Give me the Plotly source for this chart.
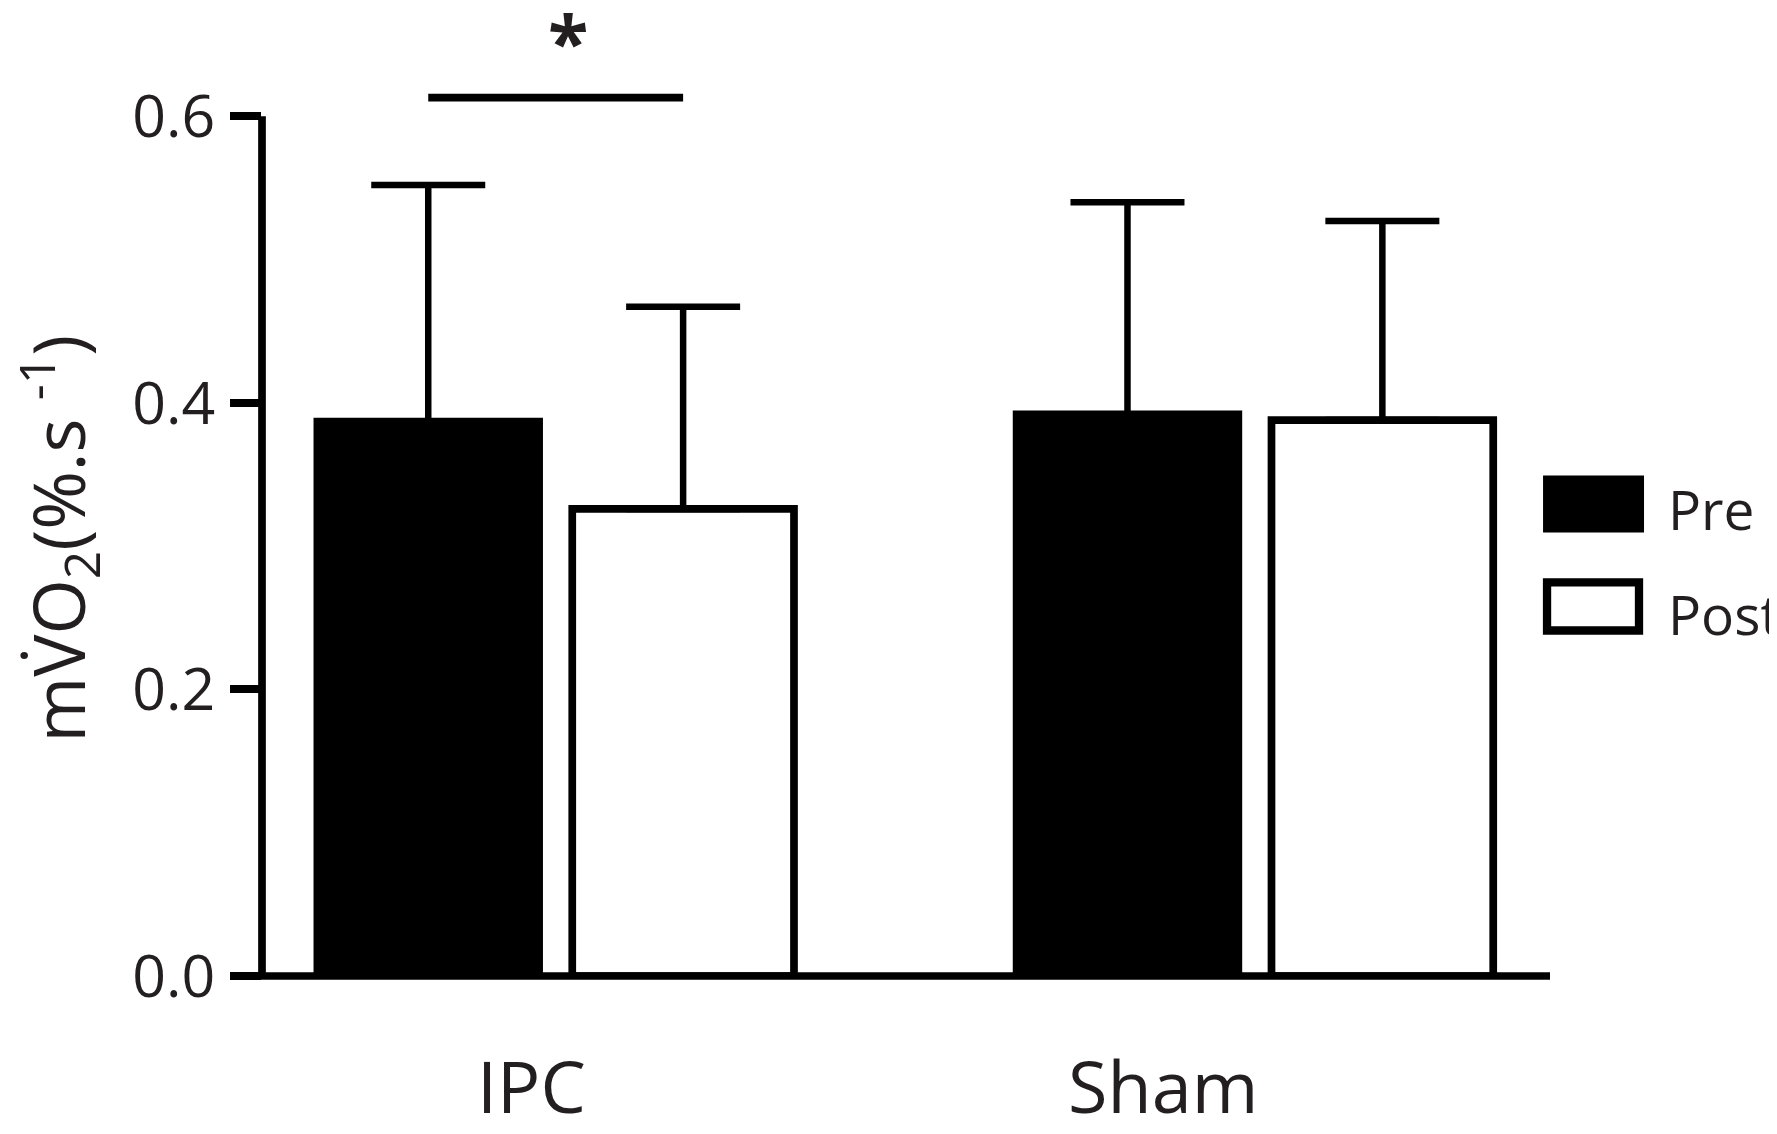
import plotly.graph_objects as go

# data
groups = ["IPC", "Sham"]
pre_mean = [0.387, 0.392]
pre_sem = [0.165, 0.148]
post_mean = [0.326, 0.388]
post_sem = [0.141, 0.139]
series_names = ["Pre", "Post"]
y_ticks = [0.0, 0.2, 0.4, 0.6]
sig_label = "*"
sig_level = 0.613

BAR_GAP = 0.271
BAR_GROUP_GAP = 0.13
LW = 7.7
TXT = "#231f20"
FONT = "Open Sans"

fig = go.Figure()
fig.add_trace(go.Bar(
    x=groups, y=pre_mean, name=series_names[0],
    marker=dict(color="black", line=dict(color="black", width=LW)),
    error_y=dict(type="data", array=pre_sem, arrayminus=[0] * len(pre_sem), symmetric=False,
                 color="black", thickness=6.5, width=57),
    showlegend=False,
))
fig.add_trace(go.Bar(
    x=groups, y=post_mean, name=series_names[1],
    marker=dict(color="white", line=dict(color="black", width=LW)),
    error_y=dict(type="data", array=post_sem, arrayminus=[0] * len(post_sem), symmetric=False,
                 color="black", thickness=6.5, width=57),
    showlegend=False,
))

# axis lines drawn by hand: y line stops at top tick, x line starts at tick end
fig.add_shape(type="line", xref="paper", yref="y", x0=0, x1=0, y0=y_ticks[0], y1=y_ticks[-1],
              line=dict(color="black", width=LW))
fig.add_shape(type="line", xref="paper", yref="paper", x0=-0.024, x1=1.0, y0=0, y1=0,
              line=dict(color="black", width=LW))

# significance bar between Pre and Post of IPC
off = (1 - BAR_GAP) / 4
fig.add_shape(type="line", xref="x", yref="y", x0=0 - off, x1=0 + off, y0=sig_level, y1=sig_level,
              line=dict(color="black", width=LW))
fig.add_annotation(x=0, y=0.975, xref="x", yref="paper", text=sig_label, showarrow=False,
                   xshift=12, xanchor="center", yanchor="middle",
                   font=dict(family=FONT, size=74, color=TXT, weight="bold"))

# category labels (sit a little left of the group centres in the original)
for g, dx in zip(groups, [-24, -92]):
    fig.add_annotation(x=g, y=-0.114, xref="x", yref="paper", text=g, showarrow=False,
                       xshift=dx, xanchor="center", yanchor="middle",
                       font=dict(family=FONT, size=72, color=TXT))

# y title
fig.add_annotation(x=0, y=0.4557, xref="paper", yref="paper",
                   text="mV\u0307O<sub>2</sub>(%.s <sup>-1</sup>)", textangle=-90,
                   showarrow=False, xshift=-203, xanchor="center", yanchor="middle",
                   font=dict(family=FONT, size=71, color=TXT))

# legend drawn by hand (plotly's bar swatches are too small)
fig.add_shape(type="rect", xref="paper", yref="paper", x0=0.9946, x1=1.073, y0=0.462, y1=0.5214,
              fillcolor="black", line=dict(width=0))
fig.add_shape(type="rect", xref="paper", yref="paper", x0=0.9977, x1=1.0691, y0=0.3599, y1=0.41,
              fillcolor="white", line=dict(color="black", width=8.3))
for name, yy in zip(series_names, [0.487, 0.3776]):
    fig.add_annotation(x=1.0901, y=yy, xref="paper", yref="paper", text=name, showarrow=False,
                       xanchor="left", yanchor="middle",
                       font=dict(family=FONT, size=55, color=TXT))

# page body has an 8px margin, so the figure is 8px smaller and margins shifted
fig.update_layout(
    width=1769, height=1126,
    margin=dict(l=254, r=227, t=8, b=158),
    plot_bgcolor="white", paper_bgcolor="white",
    barmode="group", bargap=BAR_GAP, bargroupgap=BAR_GROUP_GAP,
    xaxis=dict(type="category", range=[-0.42, 1.422], showline=False, showgrid=False,
               zeroline=False, ticks="", showticklabels=False, fixedrange=True),
    yaxis=dict(range=[0, 0.67], tickvals=y_ticks, tickformat=".1f", ticks="outside",
               ticklen=31, tickwidth=LW, tickcolor="black", showline=False, showgrid=False,
               zeroline=False, ticklabelstandoff=3,
               tickfont=dict(family=FONT, size=59, color=TXT)),
)

fig.write_html("out.html")
